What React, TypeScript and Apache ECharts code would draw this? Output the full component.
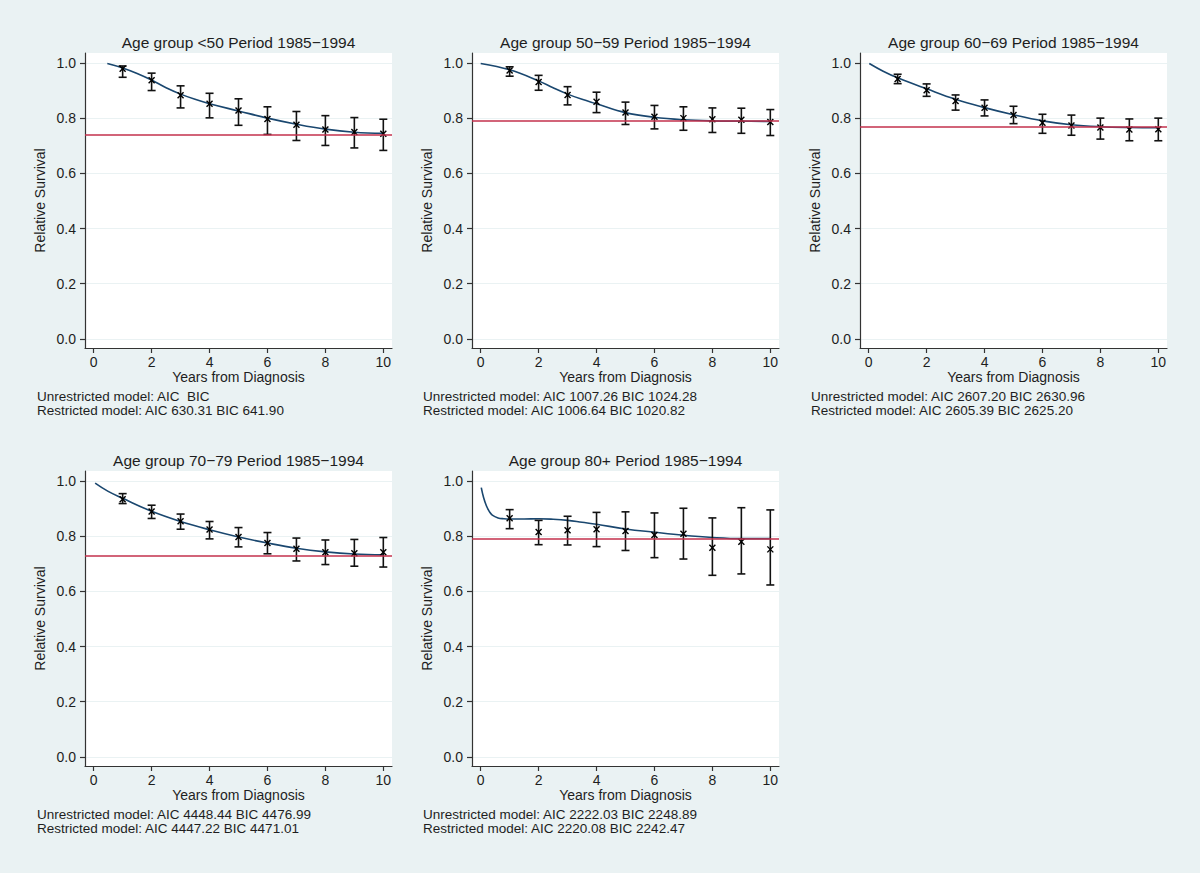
import React, { useEffect, useRef } from "react";
import * as echarts from "echarts";

// ---------- data ----------
const titles = [
  "Age group <50 Period 1985−1994",
  "Age group 50−59 Period 1985−1994",
  "Age group 60−69 Period 1985−1994",
  "Age group 70−79 Period 1985−1994",
  "Age group 80+ Period 1985−1994",
];
const unrestricted = [
  "Unrestricted model: AIC  BIC",
  "Unrestricted model: AIC 1007.26 BIC 1024.28",
  "Unrestricted model: AIC 2607.20 BIC 2630.96",
  "Unrestricted model: AIC 4448.44 BIC 4476.99",
  "Unrestricted model: AIC 2222.03 BIC 2248.89",
];
const restricted = [
  "Restricted model: AIC 630.31 BIC 641.90",
  "Restricted model: AIC 1006.64 BIC 1020.82",
  "Restricted model: AIC 2605.39 BIC 2625.20",
  "Restricted model: AIC 4447.22 BIC 4471.01",
  "Restricted model: AIC 2220.08 BIC 2242.47",
];
const years = [1, 2, 3, 4, 5, 6, 7, 8, 9, 10];
const xTicks = [0, 2, 4, 6, 8, 10];
const yTicks = [0, 0.2, 0.4, 0.6, 0.8, 1.0];

// observed relative survival, lower and upper CI
const est1 = [0.979, 0.937, 0.883, 0.852, 0.828, 0.797, 0.776, 0.759, 0.75, 0.743];
const lo1 = [0.948, 0.9, 0.837, 0.801, 0.774, 0.741, 0.719, 0.701, 0.692, 0.683];
const hi1 = [0.989, 0.963, 0.917, 0.89, 0.87, 0.841, 0.824, 0.809, 0.802, 0.796];

const est2 = [0.973, 0.931, 0.884, 0.859, 0.82, 0.805, 0.8, 0.796, 0.794, 0.786];
const lo2 = [0.952, 0.901, 0.848, 0.82, 0.777, 0.761, 0.756, 0.748, 0.745, 0.737];
const hi2 = [0.986, 0.955, 0.914, 0.894, 0.858, 0.846, 0.841, 0.837, 0.836, 0.831];

const est3 = [0.942, 0.901, 0.862, 0.838, 0.811, 0.783, 0.773, 0.766, 0.759, 0.76];
const lo3 = [0.925, 0.879, 0.829, 0.808, 0.78, 0.745, 0.738, 0.724, 0.718, 0.718];
const hi3 = [0.959, 0.924, 0.884, 0.866, 0.843, 0.814, 0.811, 0.8, 0.797, 0.8];

const est4 = [0.934, 0.889, 0.854, 0.824, 0.797, 0.775, 0.754, 0.742, 0.738, 0.742];
const lo4 = [0.918, 0.864, 0.825, 0.79, 0.761, 0.736, 0.71, 0.697, 0.691, 0.688];
const hi4 = [0.954, 0.912, 0.88, 0.853, 0.831, 0.813, 0.793, 0.786, 0.788, 0.795];

const est5 = [0.865, 0.815, 0.821, 0.825, 0.819, 0.804, 0.809, 0.758, 0.78, 0.752];
const lo5 = [0.827, 0.769, 0.768, 0.762, 0.748, 0.722, 0.717, 0.658, 0.663, 0.623];
const hi5 = [0.896, 0.857, 0.872, 0.886, 0.888, 0.884, 0.901, 0.866, 0.903, 0.895];

// fitted (unrestricted model) curves
const fitX1 = [0.47, 1, 1.5, 2, 2.5, 3, 3.5, 4, 5, 6, 7, 8, 9, 10];
const fitY1 = [0.998, 0.982, 0.962, 0.938, 0.91, 0.887, 0.868, 0.852, 0.826, 0.8, 0.778, 0.76, 0.749, 0.745];
const fitX2 = [0, 1, 2, 2.5, 3, 3.5, 4, 5, 6, 7, 8, 9, 10];
const fitY2 = [0.998, 0.975, 0.935, 0.91, 0.887, 0.868, 0.852, 0.82, 0.803, 0.794, 0.79, 0.789, 0.788];
const fitX3 = [0.02, 0.5, 1, 2, 3, 4, 5, 6, 7, 8, 9, 10];
const fitY3 = [0.998, 0.97, 0.946, 0.906, 0.868, 0.838, 0.812, 0.79, 0.776, 0.769, 0.766, 0.765];
const fitX4 = [0.05, 0.5, 1, 2, 3, 4, 5, 6, 7, 8, 9, 10];
const fitY4 = [0.992, 0.962, 0.937, 0.89, 0.853, 0.823, 0.797, 0.775, 0.756, 0.743, 0.735, 0.732];
const fitX5 = [0.02, 0.1, 0.2, 0.3, 0.4, 0.6, 0.8, 1, 1.5, 2, 2.5, 3, 3.5, 4, 5, 6, 7, 8, 9, 10];
const fitY5 = [0.976, 0.94, 0.909, 0.889, 0.876, 0.866, 0.863, 0.862, 0.862, 0.863, 0.861, 0.857, 0.85, 0.843, 0.826, 0.814, 0.803, 0.795, 0.791, 0.791];

// restricted (cure) model plateau
const plateau = [0.745, 0.788, 0.765, 0.731, 0.791];

const panels = [
  { est: est1, lo: lo1, hi: hi1, fx: fitX1, fy: fitY1 },
  { est: est2, lo: lo2, hi: hi2, fx: fitX2, fy: fitY2 },
  { est: est3, lo: lo3, hi: hi3, fx: fitX3, fy: fitY3 },
  { est: est4, lo: lo4, hi: hi4, fx: fitX4, fy: fitY4 },
  { est: est5, lo: lo5, hi: hi5, fx: fitX5, fy: fitY5 },
];

// ---------- layout ----------
const FONT = "'Liberation Sans', Arial, Helvetica, sans-serif";
const BG = "#eaf2f3";
const NAVY = "#1a476f";
const RED = "#c3304c";
const INK = "#1e1e1e";
const gridPos = [
  { left: 85, top: 53 },
  { left: 472, top: 53 },
  { left: 860, top: 53 },
  { left: 85, top: 471 },
  { left: 472, top: 471 },
];
const GW = 307;
const GH = 295;
const noteLeft = [37, 423, 811, 37, 423];

export default function App() {
  const ref = useRef<HTMLDivElement>(null);
  useEffect(() => {
    document.body.style.margin = "0";
    const chart = echarts.init(ref.current!, null, { renderer: "svg" });

    const grids: any[] = [];
    const xAxes: any[] = [];
    const yAxes: any[] = [];
    const series: any[] = [];
    const graphics: any[] = [];

    panels.forEach((p, i) => {
      const g = gridPos[i];
      grids.push({
        left: g.left,
        top: g.top,
        width: GW,
        height: GH,
        show: true,
        backgroundColor: "#ffffff",
        borderWidth: 0,
      });
      xAxes.push({
        type: "value",
        gridIndex: i,
        min: -0.3,
        max: 10.3,
        axisLine: { show: true, onZero: false, lineStyle: { color: "#333", width: 1.2 } },
        axisTick: { show: true, customValues: xTicks, length: 5, lineStyle: { color: "#333", width: 1.2 } },
        axisLabel: { customValues: xTicks, fontSize: 14, color: INK, margin: 7, fontFamily: FONT },
        splitLine: { show: false },
        name: "Years from Diagnosis",
        nameLocation: "middle",
        nameGap: 22,
        nameTextStyle: { fontSize: 14, color: INK, fontFamily: FONT },
      });
      yAxes.push({
        type: "value",
        gridIndex: i,
        min: -0.033,
        max: 1.036,
        axisLine: { show: true, onZero: false, lineStyle: { color: "#333", width: 1.2 } },
        axisTick: { show: true, customValues: yTicks, length: 5, lineStyle: { color: "#333", width: 1.2 } },
        axisLabel: {
          customValues: yTicks,
          fontSize: 14,
          color: INK,
          margin: 9,
          fontFamily: FONT,
          formatter: (v: number) => v.toFixed(1),
        },
        splitLine: { show: true, lineStyle: { color: BG, width: 1 } },
        name: "Relative Survival",
        nameLocation: "middle",
        nameGap: 38,
        nameTextStyle: { fontSize: 14, color: INK, fontFamily: FONT },
      });

      // plateau line
      series.push({
        type: "line",
        xAxisIndex: i,
        yAxisIndex: i,
        data: [],
        silent: true,
        markLine: {
          silent: true,
          symbol: ["none", "none"],
          label: { show: false },
          lineStyle: { color: RED, width: 1.5, type: "solid" },
          data: [{ yAxis: plateau[i] }],
        },
      });
      // fitted curve
      series.push({
        type: "line",
        xAxisIndex: i,
        yAxisIndex: i,
        smooth: 0.4,
        symbol: "none",
        lineStyle: { color: NAVY, width: 1.6 },
        data: p.fx.map((x, k) => [x, p.fy[k]]),
        z: 3,
      });
      // observed with CI
      series.push({
        type: "custom",
        xAxisIndex: i,
        yAxisIndex: i,
        z: 4,
        data: years.map((x, k) => [x, p.lo[k], p.hi[k], p.est[k]]),
        renderItem: (params: any, api: any) => {
          const x = api.value(0);
          const top = api.coord([x, api.value(2)]);
          const bot = api.coord([x, api.value(1)]);
          const mid = api.coord([x, api.value(3)]);
          const cw = 4;
          const m = 3;
          const st = { stroke: "#111", lineWidth: 1.6 };
          return {
            type: "group",
            children: [
              { type: "line", shape: { x1: top[0], y1: top[1], x2: bot[0], y2: bot[1] }, style: st },
              { type: "line", shape: { x1: top[0] - cw, y1: top[1], x2: top[0] + cw, y2: top[1] }, style: st },
              { type: "line", shape: { x1: bot[0] - cw, y1: bot[1], x2: bot[0] + cw, y2: bot[1] }, style: st },
              { type: "line", shape: { x1: mid[0] - m, y1: mid[1] - m, x2: mid[0] + m, y2: mid[1] + m }, style: { stroke: "#000", lineWidth: 1.4 } },
              { type: "line", shape: { x1: mid[0] - m, y1: mid[1] + m, x2: mid[0] + m, y2: mid[1] - m }, style: { stroke: "#000", lineWidth: 1.4 } },
            ],
          };
        },
      });

      // title
      graphics.push({
        type: "text",
        x: g.left + GW / 2,
        y: g.top - 11,
        style: {
          text: titles[i],
          font: `15.5px ${FONT}`,
          fill: INK,
          textAlign: "center",
          textVerticalAlign: "middle",
        },
      });
      // notes
      graphics.push({
        type: "text",
        x: noteLeft[i],
        y: g.top + 343.5,
        style: {
          text: unrestricted[i],
          font: `13.5px ${FONT}`,
          fill: INK,
          textAlign: "left",
          textVerticalAlign: "middle",
        },
      });
      graphics.push({
        type: "text",
        x: noteLeft[i],
        y: g.top + 357.5,
        style: {
          text: restricted[i],
          font: `13.5px ${FONT}`,
          fill: INK,
          textAlign: "left",
          textVerticalAlign: "middle",
        },
      });
    });

    chart.setOption({
      animation: false,
      backgroundColor: BG,
      textStyle: { fontFamily: FONT },
      grid: grids,
      xAxis: xAxes,
      yAxis: yAxes,
      series,
      graphic: graphics,
    });
    return () => chart.dispose();
  }, []);
  return <div ref={ref} style={{ width: 1200, height: 873 }} />;
}
